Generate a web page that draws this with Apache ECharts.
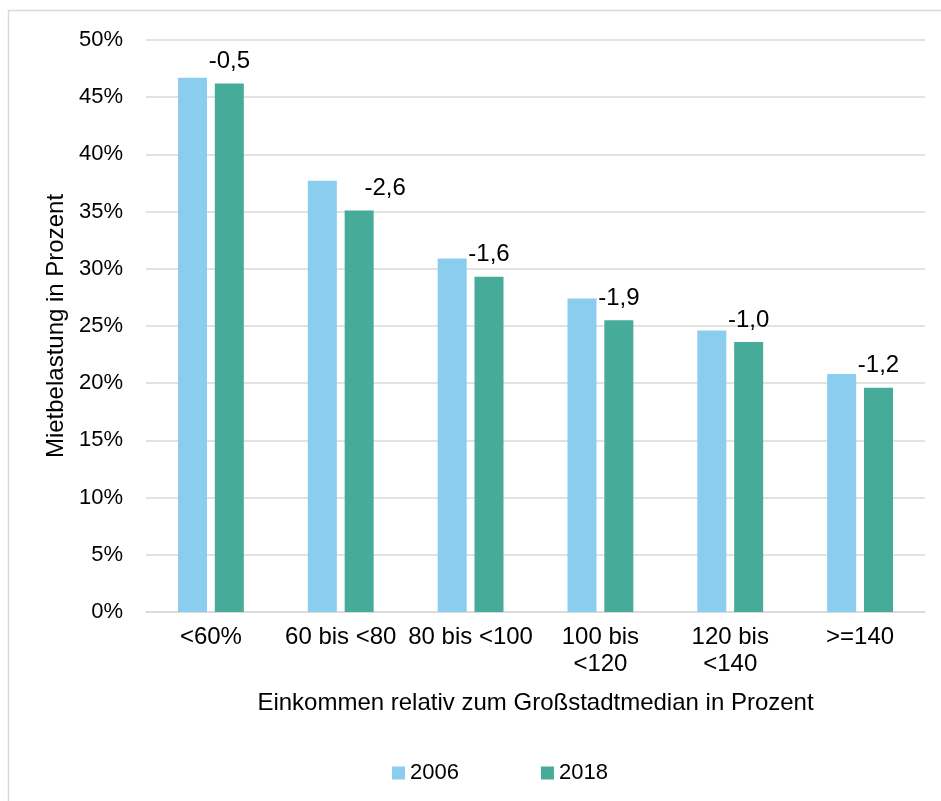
<!DOCTYPE html>
<html>
<head>
<meta charset="utf-8">
<script src="https://cdn.jsdelivr.net/npm/echarts@6/dist/echarts.min.js"></script>
<style>
  html, body { margin: 0; padding: 0; background: #fff; }
  #chart { width: 941px; height: 801px; }
</style>
</head>
<body>
<div id="chart"></div>
<script>
  // Daten
  var categories = ['<60%', '60 bis <80', '80 bis <100', '100 bis\n<120', '120 bis\n<140', '>=140'];
  var values2006 = [46.7, 37.7, 30.9, 27.4, 24.6, 20.8];
  var values2018 = [46.2, 35.1, 29.3, 25.5, 23.6, 19.6];
  var diffLabels = ['-0,5', '-2,6', '-1,6', '-1,9', '-1,0', '-1,2'];
  var yTicks = [0, 5, 10, 15, 20, 25, 30, 35, 40, 45, 50];

  var font = 'Liberation Sans, Arial, sans-serif';
  var chart = echarts.init(document.getElementById('chart'));

  var option = {
    animation: false,
    textStyle: { fontFamily: font },
    graphic: [{
      type: 'rect',
      shape: { x: 8.5, y: 10.5, width: 960, height: 820 },
      style: { fill: 'none', stroke: '#d9d9d9', lineWidth: 1.5 },
      silent: true
    }],
    grid: { left: 146, right: 16, top: 40, bottom: 189 },
    legend: {
      data: ['2006', '2018'],
      left: 387,
      top: 757,
      itemWidth: 13,
      itemHeight: 13,
      itemGap: 82,
      icon: 'rect',
      textStyle: { fontFamily: font, fontSize: 22, color: '#000' }
    },
    xAxis: {
      type: 'category',
      data: categories,
      name: 'Einkommen relativ zum Großstadtmedian in Prozent',
      nameLocation: 'middle',
      nameGap: 79,
      nameTextStyle: { fontFamily: font, fontSize: 24, color: '#000' },
      axisLine: { lineStyle: { color: '#d9d9d9', width: 1.5 } },
      axisTick: { show: false },
      axisLabel: { interval: 0, margin: 12, fontFamily: font, fontSize: 24, color: '#000', lineHeight: 27 }
    },
    yAxis: {
      type: 'value',
      min: yTicks[0],
      max: yTicks[yTicks.length - 1],
      interval: 5,
      name: 'Mietbelastung in Prozent',
      nameLocation: 'middle',
      nameGap: 76,
      nameTextStyle: { fontFamily: font, fontSize: 24, color: '#000' },
      axisLine: { show: false },
      axisTick: { show: false },
      splitLine: { lineStyle: { color: '#d9d9d9', width: 1.5 } },
      axisLabel: {
        margin: 23, fontFamily: font, fontSize: 22, color: '#000',
        formatter: function (v) { return v + '%'; }
      }
    },
    series: [
      {
        name: '2006',
        type: 'bar',
        data: values2006,
        barWidth: 29,
        barGap: '27%',
        itemStyle: { color: '#8ACDEE' }
      },
      {
        name: '2018',
        type: 'bar',
        data: values2018.map(function (v, i) {
          return {
            value: v,
            label: { offset: i === 1 ? [26, 0] : [0, 0] }
          };
        }),
        barWidth: 29,
        itemStyle: { color: '#47AB99' },
        label: {
          show: true,
          position: 'top',
          distance: 10,
          fontFamily: font,
          fontSize: 24,
          color: '#000',
          formatter: function (p) { return diffLabels[p.dataIndex]; }
        }
      }
    ]
  };

  chart.setOption(option);
</script>
</body>
</html>
